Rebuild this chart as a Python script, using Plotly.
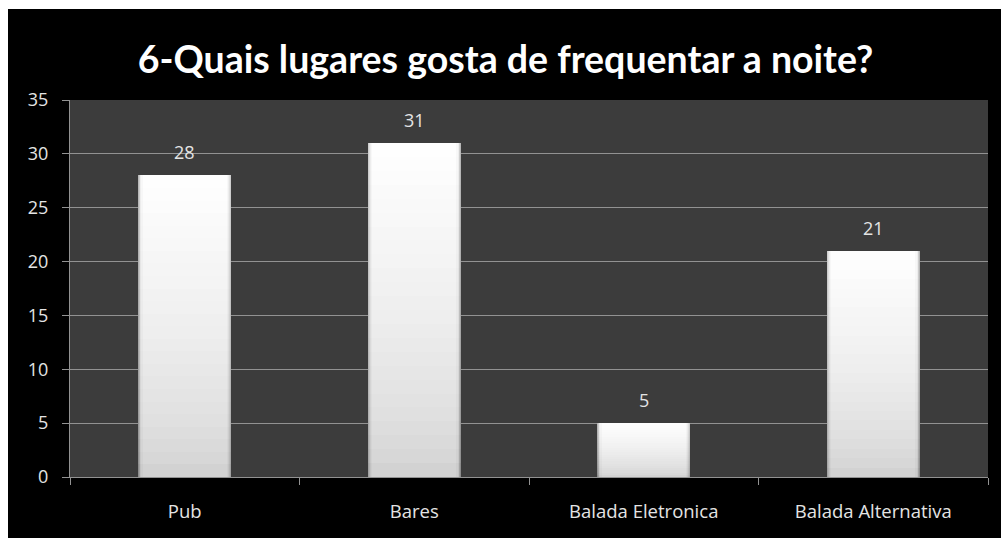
import plotly.graph_objects as go

# Survey answers: favourite places to go out at night
lugares = ["Pub", "Bares", "Balada Eletronica", "Balada Alternativa"]
respostas = [28, 31, 5, 21]
y_ticks = [0, 5, 10, 15, 20, 25, 30, 35]

TITLE = "6-Quais lugares gosta de frequentar a noite?"
TEXT_COLOR = "#e4e4e4"
GRID_COLOR = "#929292"

# Shaded bar look: nested overlaid bars (edge → centre) split into vertical
# bands, lighter towards the top and the middle of each column.
layer_widths = [0.405, 0.400, 0.394, 0.387, 0.378, 0.365]
layer_dark = [70, 48, 30, 16, 6, 0]
n_bands = 24

fig = go.Figure()
for li, (w, dark) in enumerate(zip(layer_widths, layer_dark)):
    for j in range(n_bands):
        frac = (j + 0.5) / n_bands
        level = 204 + 51 * (frac ** 0.55) - dark
        level = int(max(0, min(255, level)))
        col = f"rgb({level},{level},{level})"
        fig.add_trace(go.Bar(
            x=lugares,
            y=[v / n_bands for v in respostas],
            base=[v * j / n_bands for v in respostas],
            width=w,
            marker=dict(color=col, line=dict(width=0)),
            hoverinfo="skip",
            showlegend=False,
        ))

# Value labels above each column
for cat, val in zip(lugares, respostas):
    fig.add_annotation(
        x=cat, y=val, text=str(val), showarrow=False,
        yanchor="bottom", yshift=9,
        font=dict(family="Open Sans", size=18, color=TEXT_COLOR),
    )

fig.update_layout(
    width=1001, height=538,
    margin=dict(l=70, r=13, t=100, b=61),
    paper_bgcolor="black",
    plot_bgcolor="#3c3c3c",
    barmode="overlay",
    bargap=0,
    title=dict(
        text=TITLE,
        x=0.505, xanchor="center", xref="container",
        y=1 - 60 / 538, yanchor="middle", yref="container",
        font=dict(family="Lato", size=37.5, color="white", weight="bold"),
    ),
    font=dict(family="Open Sans", color=TEXT_COLOR),
    shapes=[
        # white frame strips around the black card
        dict(type="rect", xref="paper", yref="paper",
             x0=-70 / 918, x1=-62 / 918, y0=-61 / 377, y1=100 / 377 + 1,
             fillcolor="white", line=dict(width=0), layer="above"),
        dict(type="rect", xref="paper", yref="paper",
             x0=-70 / 918, x1=1 + 13 / 918, y0=1 + 91 / 377, y1=1 + 100 / 377,
             fillcolor="white", line=dict(width=0), layer="above"),
    ],
)

fig.update_xaxes(
    type="category",
    showline=True, linecolor=GRID_COLOR, linewidth=1,
    ticks="outside", tickson="boundaries", ticklen=7, tickcolor=GRID_COLOR,
    tickfont=dict(family="Open Sans", size=18.5, color=TEXT_COLOR),
    ticklabelstandoff=18,
    showgrid=False,
)
fig.update_yaxes(
    range=[0, 35],
    tickvals=y_ticks,
    showline=True, linecolor=GRID_COLOR, linewidth=1,
    ticks="outside", ticklen=7, tickcolor=GRID_COLOR,
    tickfont=dict(family="Open Sans", size=18, color=TEXT_COLOR),
    ticklabelstandoff=10,
    showgrid=True, gridcolor=GRID_COLOR, gridwidth=1,
    zeroline=False,
)

fig.write_html("out.html")
